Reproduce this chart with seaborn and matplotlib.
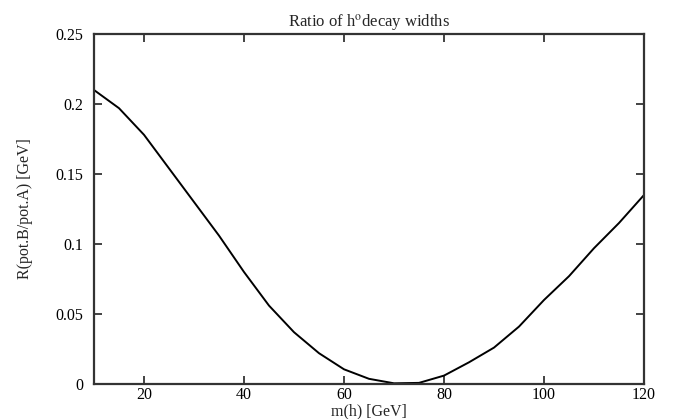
import matplotlib
matplotlib.use("Agg")
import matplotlib.pyplot as plt
import seaborn as sns
import pandas as pd

mass = [10, 15, 20, 25, 30, 35, 40, 45, 50, 55, 60, 65, 70, 75, 80, 85, 90, 95, 100, 105, 110, 115, 120]
ratio = [0.210, 0.197, 0.178, 0.154, 0.130, 0.106, 0.080, 0.056, 0.037, 0.022, 0.0105, 0.0037, 0.0005,
         0.0008, 0.006, 0.0155, 0.026, 0.041, 0.060, 0.077, 0.097, 0.115, 0.135]
xticks = [20, 40, 60, 80, 100, 120]
yticks = [0, 0.05, 0.1, 0.15, 0.2, 0.25]
ytick_labels = ["0", "0.05", "0.1", "0.15", "0.2", "0.25"]

sns.set_theme(style="ticks")
plt.rcParams["font.family"] = ["Liberation Serif", "DejaVu Serif"]
plt.rcParams["mathtext.fontset"] = "stix"

df = pd.DataFrame({"m": mass, "R": ratio})

fig = plt.figure(figsize=(6.81, 4.19), dpi=100)
ax = fig.add_axes([94 / 681, 1 - 384 / 419, 550 / 681, 350 / 419])
sns.lineplot(data=df, x="m", y="R", ax=ax, color="black", linewidth=1.4)

ax.set_xlim(10, 120)
ax.set_ylim(0, 0.25)
ax.set_xticks(xticks)
ax.set_xticklabels([str(t) for t in xticks])
ax.set_yticks(yticks)
ax.set_yticklabels(ytick_labels)
ax.tick_params(direction="in", length=6, width=1.2, color="#222222",
               top=True, right=True, labelsize=11.5, pad=8, labelcolor="black")
ax.tick_params(axis="x", pad=2.5)
for s in ax.spines.values():
    s.set_visible(True)
    s.set_linewidth(1.6)
    s.set_color("#333333")

ax.set_title(r"Ratio of h$^{\mathrm{o}}$decay widths", fontsize=12, pad=5)
ax.set_xlabel("m(h) [GeV]", fontsize=11.5, labelpad=0)
ax.set_ylabel("R(pot.B/pot.A) [GeV]", fontsize=11.5, labelpad=16)

fig.savefig("out.png", dpi=100)
